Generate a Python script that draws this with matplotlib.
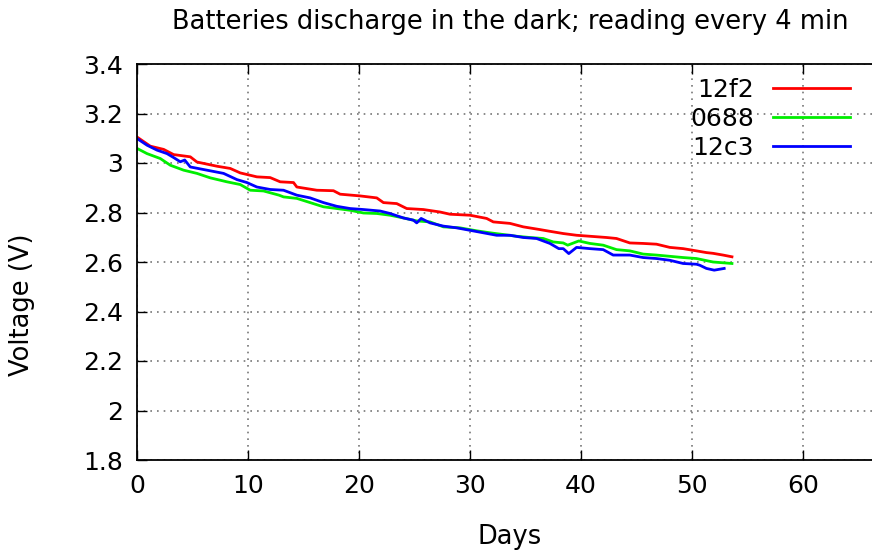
import matplotlib
matplotlib.use("Agg")
import matplotlib.pyplot as plt

# readings (days, volts)
days_12f2 = [0.0, 1.2, 2.4, 3.3, 4.8, 5.4, 7.2, 8.4, 9.3, 10.8, 12.0, 12.9, 14.1, 14.4,
             16.2, 17.7, 18.3, 20.1, 21.6, 22.2, 23.4, 24.3, 25.8, 27.3, 28.2, 30.0,
             31.5, 32.1, 33.6, 34.8, 36.3, 37.2, 38.4, 39.6, 40.8, 42.3, 43.2, 44.4,
             45.6, 46.8, 48.0, 49.2, 50.4, 51.3, 51.9, 52.8, 53.6]
volts_12f2 = [3.105, 3.068, 3.055, 3.034, 3.025, 3.004, 2.987, 2.978, 2.960, 2.944,
              2.941, 2.924, 2.921, 2.903, 2.890, 2.888, 2.874, 2.867, 2.859, 2.840,
              2.836, 2.816, 2.812, 2.802, 2.793, 2.789, 2.776, 2.762, 2.756, 2.742,
              2.731, 2.724, 2.715, 2.708, 2.704, 2.699, 2.695, 2.677, 2.675, 2.672,
              2.659, 2.654, 2.645, 2.638, 2.635, 2.628, 2.621]

days_0688 = [0.0, 0.9, 2.1, 3.0, 4.2, 5.4, 6.6, 8.1, 9.3, 10.2, 11.4, 12.8, 13.2, 14.4,
             15.6, 16.8, 18.0, 19.2, 20.4, 21.6, 22.8, 24.0, 24.6, 25.2, 26.4, 27.6,
             29.1, 30.6, 31.8, 33.0, 34.2, 35.4, 36.6, 37.5, 38.4, 38.8, 39.8, 40.8,
             42.0, 43.2, 44.4, 45.6, 46.8, 48.0, 49.2, 50.4, 51.9, 53.6]
volts_0688 = [3.059, 3.038, 3.018, 2.991, 2.971, 2.958, 2.940, 2.924, 2.913, 2.890,
              2.887, 2.870, 2.863, 2.857, 2.840, 2.823, 2.816, 2.809, 2.798, 2.796,
              2.789, 2.778, 2.772, 2.766, 2.762, 2.742, 2.738, 2.726, 2.718, 2.711,
              2.704, 2.699, 2.695, 2.681, 2.677, 2.668, 2.685, 2.675, 2.668, 2.650,
              2.645, 2.632, 2.628, 2.623, 2.618, 2.614, 2.600, 2.594]

days_12c3 = [0.0, 0.9, 1.8, 2.7, 3.3, 3.9, 4.3, 4.8, 6.3, 7.8, 9.0, 9.9, 10.8, 12.0,
             13.2, 14.4, 15.6, 16.8, 18.0, 19.2, 20.4, 21.9, 22.8, 24.0, 24.9, 25.2,
             25.6, 26.4, 27.6, 28.8, 30.0, 31.2, 32.4, 33.6, 34.8, 36.0, 37.2, 38.0,
             38.4, 38.9, 39.6, 40.8, 42.0, 42.9, 44.4, 45.6, 46.8, 48.0, 49.2, 50.4,
             50.7, 51.3, 52.0, 52.9]
volts_12c3 = [3.099, 3.072, 3.052, 3.038, 3.022, 3.005, 3.012, 2.984, 2.971, 2.958,
              2.933, 2.921, 2.903, 2.893, 2.890, 2.870, 2.859, 2.840, 2.825, 2.816,
              2.812, 2.806, 2.796, 2.778, 2.769, 2.758, 2.776, 2.758, 2.745, 2.738,
              2.728, 2.718, 2.708, 2.708, 2.699, 2.695, 2.675, 2.654, 2.654, 2.634,
              2.659, 2.654, 2.650, 2.628, 2.628, 2.618, 2.614, 2.607, 2.594, 2.591,
              2.587, 2.574, 2.567, 2.574]

x_ticks = [0, 10, 20, 30, 40, 50, 60]
y_ticks = [1.8, 2.0, 2.2, 2.4, 2.6, 2.8, 3.0, 3.2, 3.4]
y_labels = ["1.8", "2", "2.2", "2.4", "2.6", "2.8", "3", "3.2", "3.4"]

plt.rcParams["font.family"] = ["DejaVu Sans"]

W, H = 872, 553
fig = plt.figure(figsize=(W / 100, H / 100), dpi=100)
# right edge of the frame runs off the picture, as in the reference
ax = fig.add_axes([137 / W, 1 - 460 / H, (914 - 137) / W, (460 - 64) / H])

ax.plot(days_12f2, volts_12f2, color="#ff0000", lw=2, label="12f2")
ax.plot(days_0688, volts_0688, color="#00ee00", lw=2, label="0688")
ax.plot(days_12c3, volts_12c3, color="#0000ff", lw=2, label="12c3")

ax.set_xlim(0, 70)
ax.set_ylim(1.8, 3.4)
ax.set_xticks(x_ticks)
ax.set_yticks(y_ticks)
ax.set_yticklabels(y_labels)
ax.tick_params(direction="in", length=7, width=1, labelsize=18, pad=10,
               top=True, right=True)
ax.grid(True, color="#777777", linestyle=(0, (1, 3)), lw=1.2)
for s in ax.spines.values():
    s.set_linewidth(1.3)

fig.text(510 / W, 1 - 22 / H, "Batteries discharge in the dark; reading every 4 min",
         ha="center", va="center", fontsize=18.5)
fig.text(510 / W, 1 - 537 / H, "Days", ha="center", va="center", fontsize=18.5)
fig.text(22 / W, 1 - 305 / H, "Voltage (V)", ha="center", va="center",
         rotation=90, fontsize=18.5)

ax.legend(loc="upper right", bbox_to_anchor=(850 / W, 1 - 78 / H),
          bbox_transform=fig.transFigure, frameon=False, markerfirst=False,
          fontsize=18, handlelength=3.1, handletextpad=0.75, labelspacing=0.2,
          borderpad=0, borderaxespad=0)

fig.savefig("out.png", dpi=100)
